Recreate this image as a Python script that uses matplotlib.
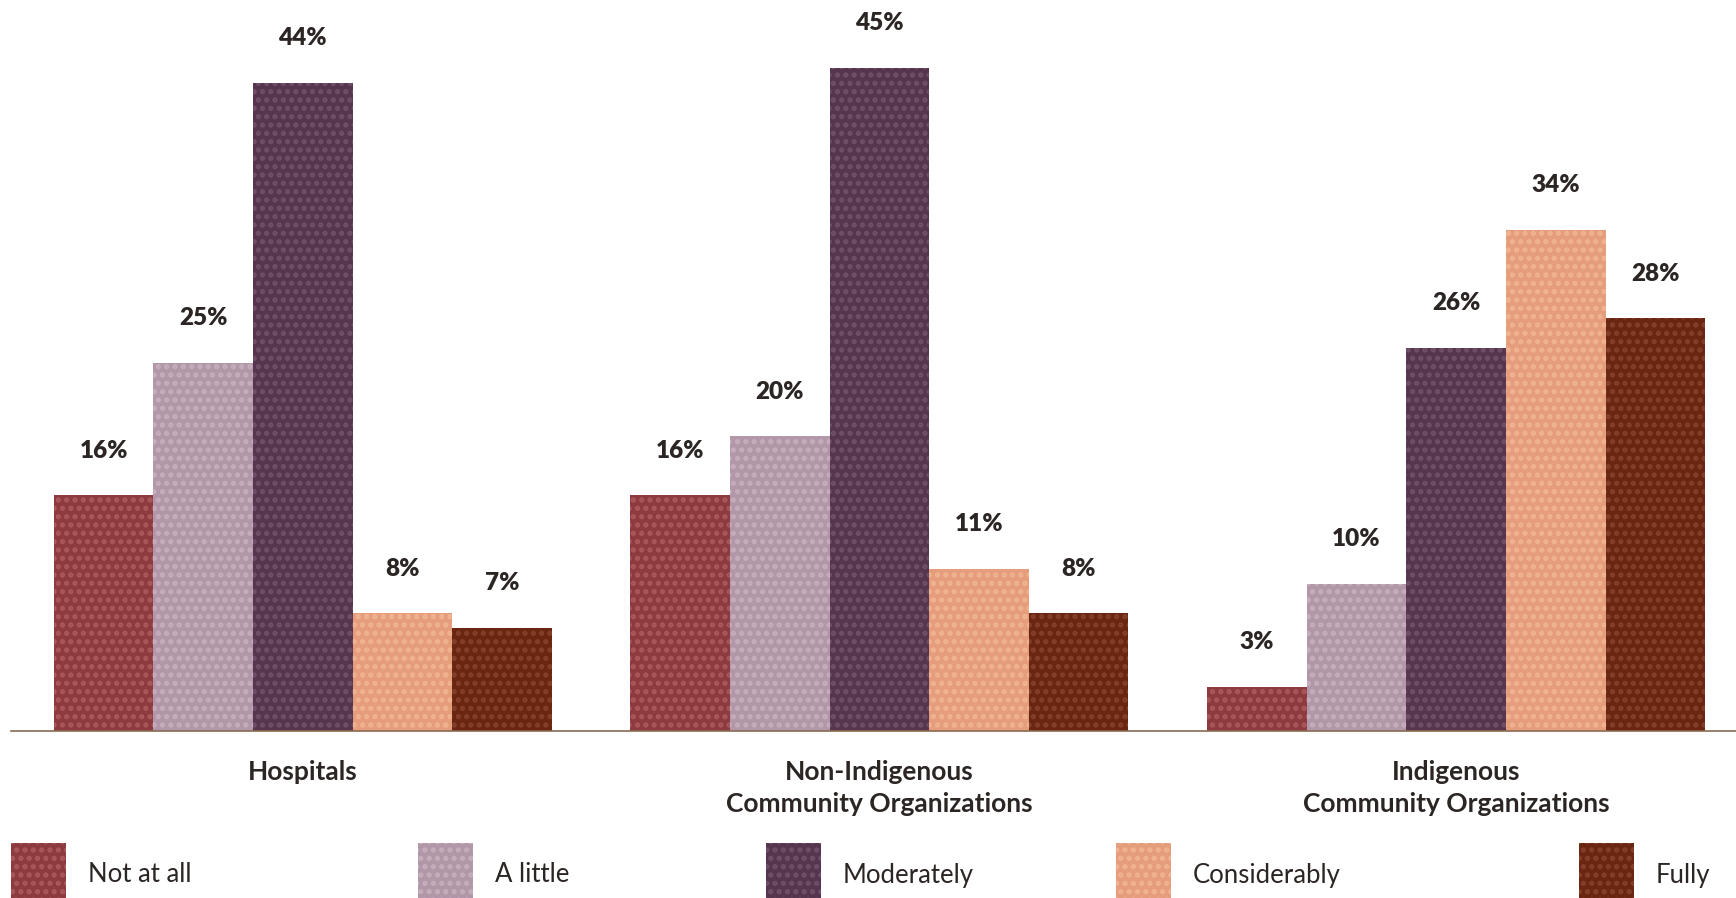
import matplotlib
matplotlib.use("Agg")
import matplotlib.pyplot as plt
from matplotlib.patches import Rectangle
import numpy as np

# data
groups = ["Hospitals", "Non-Indigenous\nCommunity Organizations", "Indigenous\nCommunity Organizations"]
levels = ["Not at all", "A little", "Moderately", "Considerably", "Fully"]
not_at_all = [16, 16, 3]
a_little = [25, 20, 10]
moderately = [44, 45, 26]
considerably = [8, 11, 34]
fully = [7, 8, 28]

colors = ["#8e3b40", "#b297a8", "#56364f", "#e69d7b", "#6a2610"]
dot_colors = ["#a9585c", "#c6aebd", "#6f5068", "#f1b493", "#84412a"]

plt.rcParams['font.family'] = ['Lato', 'DejaVu Sans']
plt.rcParams['hatch.linewidth'] = 2.5
text_col = "#2b2523"

fig = plt.figure(figsize=(17.36, 8.98), dpi=100)
ax = fig.add_axes([11 / 1736, 167 / 898, 1725 / 1736, 731 / 898])

series = [not_at_all, a_little, moderately, considerably, fully]
pitch = 5.79
centers = np.arange(len(groups)) * pitch
for i, vals in enumerate(series):
    xs = centers + (i - 2)
    ax.bar(xs, vals, width=1.0, color=colors[i], linewidth=0)
    ax.bar(xs, vals, width=1.0, facecolor="none", edgecolor=dot_colors[i],
           hatch="..", linewidth=0)
    for x, v in zip(xs, vals):
        ax.annotate(f"{v}%", (x, v), xytext=(0, 32), textcoords="offset points",
                    ha="center", va="center", fontsize=17.5, fontweight="heavy",
                    color=text_col)

ax.set_xlim(-2.93, 14.39)
ax.set_ylim(0, 49.6)
for s in ["top", "right", "left"]:
    ax.spines[s].set_visible(False)
ax.spines["bottom"].set_color("#8a6a52")
ax.spines["bottom"].set_linewidth(1.2)
ax.set_yticks([])
ax.set_xticks(centers)
ax.set_xticklabels(groups, fontsize=19, fontweight="bold", color=text_col,
                   linespacing=1.4)
ax.tick_params(axis="x", length=0, pad=21)

# legend along the bottom
sw_left = [11, 418, 766, 1116, 1579]
for i, lab in enumerate(levels):
    x0 = sw_left[i] / 1736
    r = Rectangle((x0, 0), 55 / 1736, 55 / 898, transform=fig.transFigure,
                  facecolor=colors[i], edgecolor=dot_colors[i], hatch="..",
                  linewidth=0)
    fig.add_artist(r)
    fig.text((sw_left[i] + 77) / 1736, 23 / 898, lab, fontsize=18.5,
             color=text_col, ha="left", va="center")

fig.savefig("out.png", dpi=100)
